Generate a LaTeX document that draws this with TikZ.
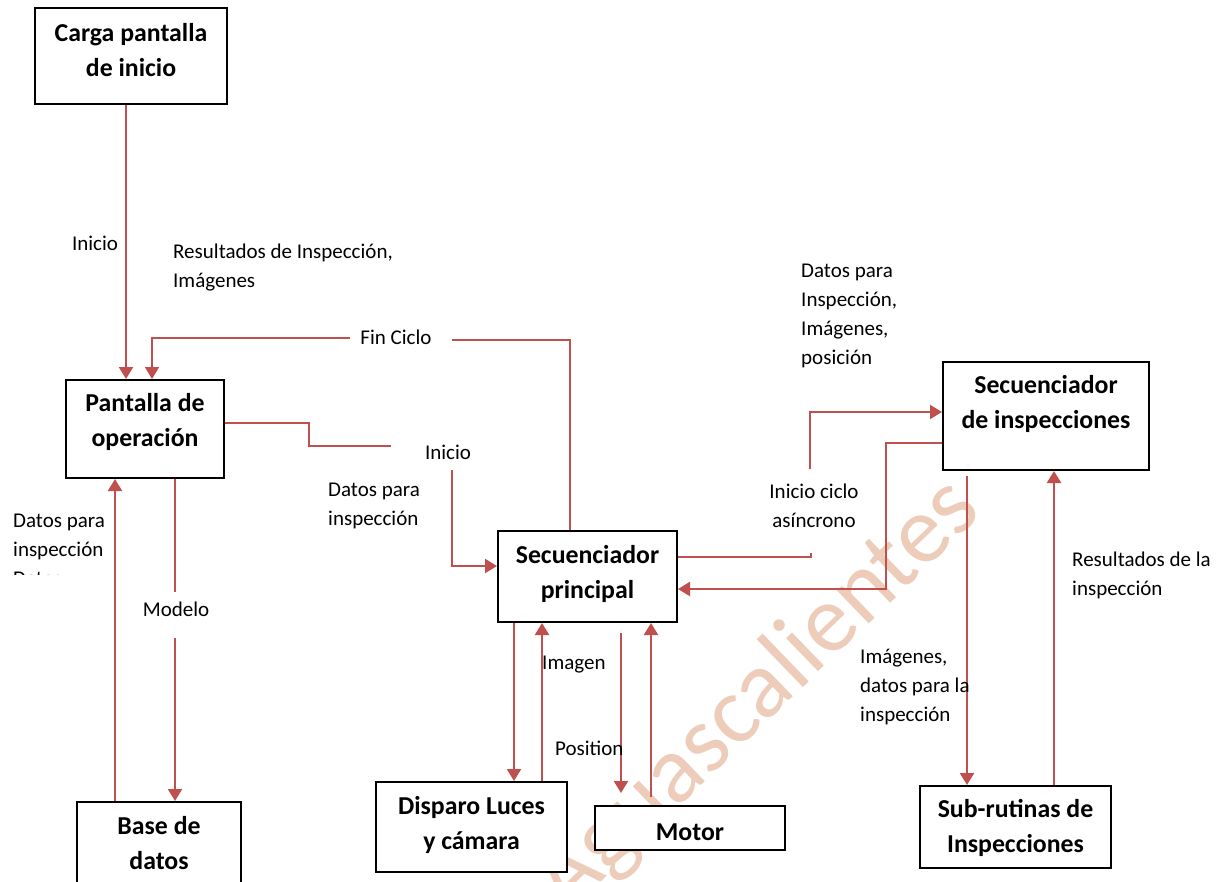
\documentclass[tikz,border=0pt]{standalone}
\usepackage{fontspec}
\setmainfont{Carlito}
\usetikzlibrary{arrows.meta}
\definecolor{flow}{HTML}{C0504D}
\definecolor{wmark}{RGB}{237,204,186}

\begin{document}
\begin{tikzpicture}[x=1pt,y=-1pt,
  box/.style={draw=black, line width=2pt, fill=white, inner sep=0pt},
  btxt/.style={font=\fontsize{25.8}{35}\selectfont\bfseries, align=center, inner sep=0pt},
  lbl/.style={font=\fontsize{21}{29}\selectfont, inner sep=0pt},
  flowline/.style={draw=flow, line width=2.2pt},
  thinline/.style={draw=flow, line width=1.7pt},
  arr/.style={-{Triangle[length=12pt,width=14pt]}},
]
\useasboundingbox (0,0) rectangle (1222,882);
\clip (0,0) rectangle (1222,882);
\fill[white] (0,0) rectangle (1222,882);

% watermark behind everything
\node[rotate=44, text=wmark, inner sep=0pt, font=\fontsize{96}{96}\selectfont] (wm) at (758,696) {Aguascalientes};

% blocks
\node[box, minimum width=192pt, minimum height=96pt] (carga) at (131,56) {};
\node[btxt] (cargatxt) at (131,50) {Carga pantalla\\de inicio};

\node[box, minimum width=158pt, minimum height=98pt] (pant) at (145,429) {};
\node[btxt] (panttxt) at (145,422) {Pantalla de\\operación};

\node[box, minimum width=164pt, minimum height=120pt, anchor=north] (base) at (159,801) {};
\node[btxt] (basetxt) at (159,843) {Base de\\datos};

\node[box, minimum width=179pt, minimum height=91pt] (sp) at (587.5,576.5) {};
\node[btxt] (sptxt) at (587.5,574) {Secuenciador\\principal};

\node[box, minimum width=191pt, minimum height=90pt] (disp) at (471.5,827) {};
\node[btxt] (disptxt) at (471.5,825) {Disparo Luces\\y cámara};

\node[box, minimum width=190pt, minimum height=44pt] (motor) at (690,828) {};
\node[btxt] (motortxt) at (690,832) {Motor};

\node[box, minimum width=206pt, minimum height=108pt] (si) at (1046,416) {};
\node[btxt] (sitxt) at (1046,404) {Secuenciador\\de inspecciones};

\node[box, minimum width=191pt, minimum height=82pt] (sub) at (1015.5,827) {};
\node[btxt] (subtxt) at (1015.5,828) {Sub-rutinas de\\Inspecciones};

% routing points
\coordinate (c1) at (126,0);
\coordinate (xfin) at (570,0);
\coordinate (fr) at (452,340);
\coordinate (fl) at (350,338);
\coordinate (fa) at (152,0);
\coordinate (p1) at (309,423);
\coordinate (p2) at (391,446);
\coordinate (p3) at (452,470);
\coordinate (p4) at (0,566);
\coordinate (m1) at (175,592);
\coordinate (m2) at (175,638);
\coordinate (d1) at (115,0);
\coordinate (k1) at (514,0);
\coordinate (k2) at (542,0);
\coordinate (k3) at (621,633);
\coordinate (k4) at (621,793);
\coordinate (k5) at (651,797);
\coordinate (q0) at (811,557);
\coordinate (q1) at (811,553);
\coordinate (q2) at (810,469);
\coordinate (q3) at (0,412);
\coordinate (r1) at (886,443);
\coordinate (r2) at (0,589);
\coordinate (s1) at (967,476);
\coordinate (s2) at (1054,0);

% connectors
\draw[flowline, arr] (carga.south -| c1) -- (pant.north -| c1);
\draw[flowline] (sp.north -| xfin) |- (fr);
\draw[thinline, arr] (fl) -| (pant.north -| fa);
\draw[thinline] (pant.east |- p1) -- (p1) |- (p2);
\draw[flowline, arr] (p3) |- (sp.west |- p4);
\draw[thinline] (pant.south -| m1) -- (m1);
\draw[flowline, arr] (m2) -- (base.north -| m2);
\draw[flowline, arr] (base.north -| d1) -- (pant.south -| d1);
\draw[flowline, arr] (sp.south -| k1) -- (disp.north -| k1);
\draw[flowline, arr] (disp.north -| k2) -- (sp.south -| k2);
\draw[flowline, arr] (k3) -- (k4);
\draw[flowline, arr] (k5) -- (sp.south -| k5);
\draw[thinline] (sp.east |- q0) -- (q0) -- (q1);
\draw[flowline, arr] (q2) |- (si.west |- q3);
\draw[flowline, arr] (si.west |- r1) -- (r1) |- (sp.east |- r2);
\draw[flowline, arr] (s1) -- (sub.north -| s1);
\draw[flowline, arr] (sub.north -| s2) -- (si.south -| s2);

% labels
\node[lbl] (l1) at (95,243) {Inicio};
\node[lbl, align=left, anchor=west] (l2) at (173,268) {Resultados de Inspección,\\Imágenes};
\node[lbl] (l3) at (396,337) {Fin Ciclo};
\node[lbl] (l4) at (448,452) {Inicio};
\node[lbl, align=left, anchor=west] (l5) at (328,506) {Datos para\\inspección};
\begin{scope}
  \clip (0,480) rectangle (112,574);
  \node[lbl, align=left, anchor=west] (l6) at (13,550) {Datos para\\inspección\\Datos};
\end{scope}
\node[lbl] (l7) at (176,609) {Modelo};
\node[lbl, anchor=west] (l8) at (542,665) {Imagen};
\node[lbl, anchor=west] (l9) at (555,748) {Position};
\node[lbl, align=left, anchor=west] (l10) at (801,316) {Datos para\\Inspección,\\Imágenes,\\posición};
\node[lbl, align=center] (l11) at (814,506) {Inicio ciclo\\asíncrono};
\node[lbl, align=left, anchor=west] (l12) at (860,687) {Imágenes,\\datos para la\\inspección};
\node[lbl, align=left, anchor=west] (l13) at (1072,575) {Resultados de la\\inspección};
\end{tikzpicture}
\end{document}
